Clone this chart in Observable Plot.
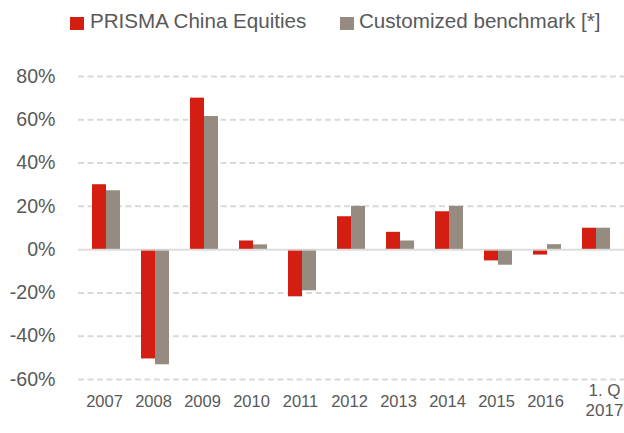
<!DOCTYPE html>
<html>
<head>
<meta charset="utf-8">
<script src="https://cdn.jsdelivr.net/npm/d3@7"></script>
<script src="https://cdn.jsdelivr.net/npm/@observablehq/plot@0.6"></script>
<style>
  html, body { margin: 0; padding: 0; background: #fff; }
  #wrap { position: relative; width: 624px; height: 433px; font-family: "Liberation Sans", Arial, sans-serif; overflow: hidden; }
  .lt { position: absolute; top: 10.9px; font-size: 20.6px; line-height: 20.6px; color: #595959; white-space: nowrap; }
  .sw { position: absolute; top: 16.7px; width: 14px; height: 13.5px; }
  #chart { position: absolute; top: 0; left: 0; }
</style>
</head>
<body>
<div id="wrap">
  <div id="chart"></div>
  <span class="sw" style="left:70px;background:#d31e11"></span>
  <span class="lt" style="left:90px">PRISMA China Equities</span>
  <span class="sw" style="left:339.5px;background:#968b80"></span>
  <span class="lt" style="left:359px">Customized benchmark [*]</span>
</div>
<script>
const categories = ["2007","2008","2009","2010","2011","2012","2013","2014","2015","2016","1. Q\n2017"];
const prisma = [0.30, -0.505, 0.70, 0.04, -0.218, 0.152, 0.08, 0.175, -0.052, -0.025, 0.099];
const benchmark = [0.272, -0.532, 0.615, 0.022, -0.19, 0.20, 0.04, 0.20, -0.072, 0.023, 0.099];
const yTicks = [-0.6, -0.4, -0.2, 0, 0.2, 0.4, 0.6, 0.8];

const dataP = categories.map((c, i) => ({cat: c, value: prisma[i]}));
const dataB = categories.map((c, i) => ({cat: c, value: benchmark[i]}));
const lastCat = categories[categories.length - 1];

const chart = Plot.plot({
  width: 624,
  height: 433,
  marginTop: 76,
  marginBottom: 54,
  marginLeft: 78,
  marginRight: 0,
  style: {fontFamily: "Liberation Sans, Arial, sans-serif", fontSize: "16px", color: "#595959", background: "transparent", overflow: "hidden"},
  x: {domain: categories, paddingInner: 0.716, paddingOuter: 0.34, label: null, axis: null},
  y: {domain: [-0.6, 0.8], label: null},
  marks: [
    Plot.ruleY(yTicks.filter(t => t !== 0), {stroke: "#d9d9d9", strokeWidth: 2, strokeDasharray: "6,3.5"}),
    Plot.barY(dataP, {x: "cat", y: "value", fill: "#d31e11", dx: -7}),
    Plot.barY(dataB, {x: "cat", y: "value", fill: "#968b80", dx: 7}),
    Plot.ruleY([0], {stroke: "#d9d9d9", strokeWidth: 2, strokeOpacity: 0.9}),
    Plot.axisY({ticks: yTicks, tickSize: 0, tickPadding: 23, tickFormat: d => Math.round(d * 100) + "%", fontSize: 19.6}),
    Plot.text(categories.filter(c => c !== lastCat), {x: d => d, text: d => d, frameAnchor: "bottom", dy: 27, dx: -2, fontSize: 16.5, fill: "#595959"}),
    Plot.text([lastCat], {x: d => d, text: d => d, frameAnchor: "bottom", dy: 36.5, dx: 8, fontSize: 17, lineHeight: 1.15, fill: "#595959"})
  ]
});
document.getElementById("chart").appendChild(chart);
</script>
</body>
</html>
